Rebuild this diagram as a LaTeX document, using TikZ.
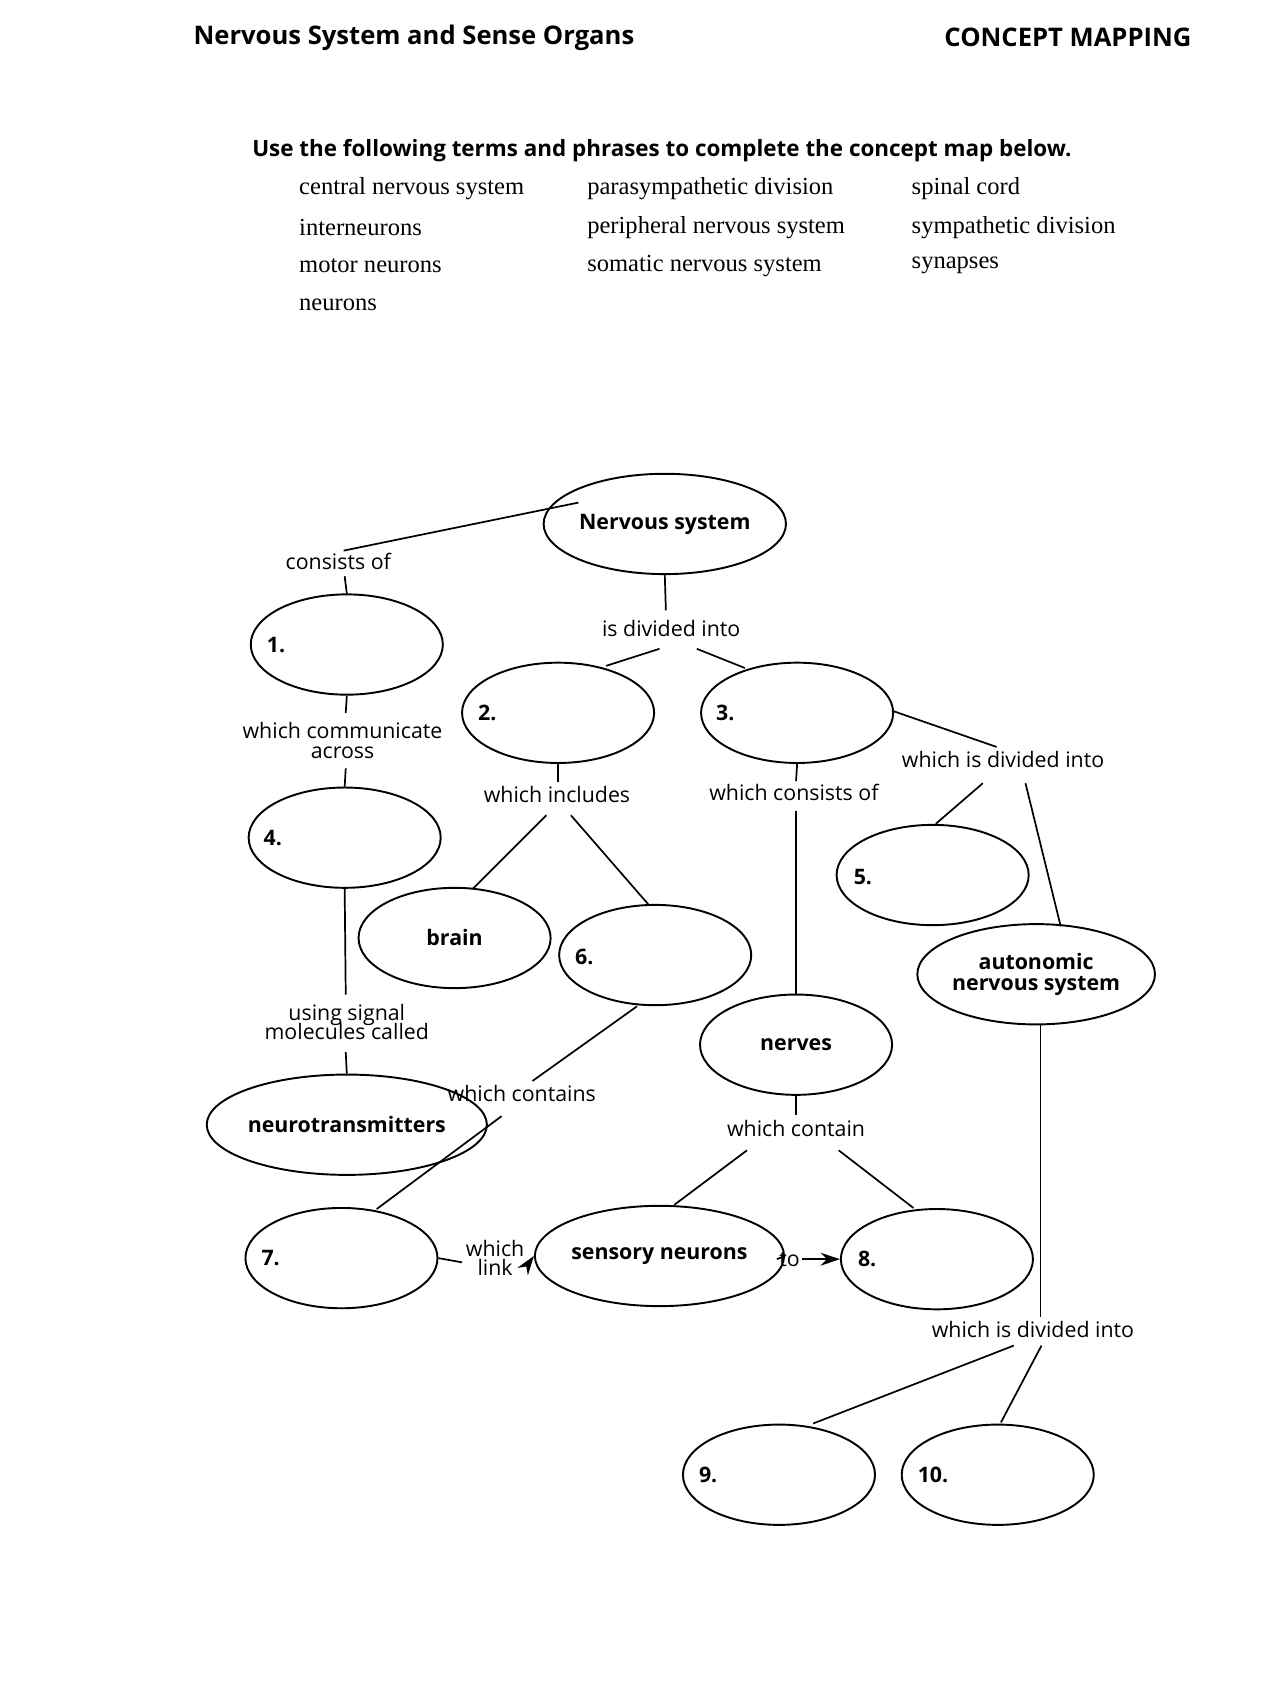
\documentclass[tikz,border=0pt]{standalone}
\usepackage{fontspec}
\setmainfont{Liberation Serif}
\newfontfamily\lab{Open Sans}
\usetikzlibrary{arrows.meta,shapes.geometric}
\tikzset{
 x=0.5pt,y=-0.5pt,
 ell/.style={draw,line width=0.9pt,ellipse,minimum width=90pt,minimum height=47pt,inner sep=0pt},
 bl/.style={font=\lab\bfseries\fontsize{10}{12}\selectfont,align=center},
 num/.style={font=\lab\bfseries\fontsize{10}{12}\selectfont,anchor=west},
 lt/.style={font=\lab\fontsize{10}{12}\selectfont,align=center,inner sep=1pt},
 ln/.style={line width=0.8pt},
 lst/.style={font=\fontsize{11.5}{13}\selectfont,anchor=west,inner sep=0pt}
}
\begin{document}
\begin{tikzpicture}
\useasboundingbox[fill=white] (0,0) rectangle (1200,1580);
\node[font=\lab\bfseries\fontsize{12}{14}\selectfont,anchor=west,inner sep=0] at (181,35) {Nervous System and Sense Organs};
\node[font=\lab\bfseries\fontsize{12}{14}\selectfont,anchor=east,inner sep=0] at (1117,35) {CONCEPT MAPPING};
\node[font=\lab\bfseries\fontsize{10.5}{13}\selectfont,anchor=west,inner sep=0] at (236,141) {Use the following terms and phrases to complete the concept map below.};
\node[lst] at (280,177) {central nervous system};
\node[lst] at (280,213) {interneurons};
\node[lst] at (280,249) {motor neurons};
\node[lst] at (280,286) {neurons};
\node[lst] at (550,177) {parasympathetic division};
\node[lst] at (550,213) {peripheral nervous system};
\node[lst] at (550,249) {somatic nervous system};
\node[lst] at (854,177) {spinal cord};
\node[lst] at (854,213) {sympathetic division};
\node[lst] at (854,249) {synapses};

% ellipses
\node[ell,bl] (ns) at (623,491) {Nervous system};
\node[ell] (e1) at (325,604) {};
\node[ell] (e2) at (523,668) {};
\node[ell] (e3) at (747,668) {};
\node[ell] (e4) at (323,785) {};
\node[ell,bl] (brain) at (426,879) {brain};
\node[ell] (e6) at (614,895) {};
\node[ell] (e5) at (874,820) {};
\node[ell,bl] (auto) at (971,913) {autonomic\\[-2pt]nervous system};
\node[ell,bl] (nerves) at (746,979) {nerves};
\node[ell,bl] (neuro) at (325,1054) {neurotransmitters};
\node[ell] (e7) at (320,1179) {};
\node[ell,bl] (sens) at (618,1177) {sensory neurons};
\node[ell] (e8) at (878,1180) {};
\node[ell] (e9) at (730,1382) {};
\node[ell] (e10) at (935,1382) {};
\node[num] at (243,604) {1.};
\node[num] at (441,668) {2.};
\node[num] at (664,668) {3.};
\node[num] at (240,785) {4.};
\node[num] at (793,822) {5.};
\node[num] at (532,897) {6.};
\node[num] at (238,1179) {7.};
\node[num] at (797,1180) {8.};
\node[num] at (648,1382) {9.};
\node[num] at (853,1382) {10.};

% labels
\node[lt] (consists) at (317,526) {consists of};
\node[lt] (divided) at (629,589) {is divided into};
\node[lt] (comm) at (321,694) {which communicate\\[-3pt]across};
\node[lt] (signal) at (325,958) {using signal\\[-3pt]molecules called};
\node[lt] (incl) at (522,745) {which includes};
\node[lt] (consof) at (744,743) {which consists of};
\node[lt] (div2) at (940,712) {which is divided into};
\node[lt] (contains) at (489,1025) {which contains};
\node[lt] (contain) at (746,1058) {which contain};
\node[lt] (div3) at (968,1246) {which is divided into};
\node[lt] (link) at (464,1179) {which\\[-3pt]link};
\node[lt] (to) at (740,1180) {to};

\coordinate (c1) at (322,516);
\draw[ln] (542,471) -- (c1);
\draw[ln] (323,540) -- (e1.north);
\draw[ln] (ns.south) -- (624,572);
\draw[ln] (618,608) -- (568,624);
\draw[ln] (653,608) -- (698,626);
\draw[ln] (e1.south) -- (324,668);
\draw[ln] (324,720) -- (e4.north);
\draw[ln] (e4.south) -- (324,932);
\draw[ln] (324,986) -- (neuro.north);
\draw[ln] (e2.south) -- (523,733);
\draw[ln] (512,764) -- (443,833);
\draw[ln] (535,764) -- (608,848);
\draw[ln] (e3.south) -- (746,732);
\draw[ln] (746,760) -- (nerves.north);
\draw[ln] (836,666) -- (934,700);
\draw[ln] (921,734) -- (877,772);
\draw[ln] (961,734) -- (994,868);
\draw[ln] (597,943) -- (499,1013);
\draw[ln] (470,1046) -- (353,1133);
\draw[ln] (nerves.south) -- (746,1045);
\draw[ln] (700,1078) -- (632,1129);
\draw[ln] (786,1078) -- (856,1132);
\draw[ln] (975,960) -- (975,1234);
\draw[ln] (950,1261) -- (762,1334);
\draw[ln] (976,1261) -- (938,1333);
\draw[ln] (e7.east) -- (433,1183);
\draw[ln,-{Stealth[length=9pt,width=6pt]}] (496,1183) -- (sens.west);
\draw[ln] (sens.east) -- (to.west);
\draw[ln,-{Stealth[length=9pt,width=6pt]}] (to.east) -- (e8.west);
\end{tikzpicture}
\end{document}
